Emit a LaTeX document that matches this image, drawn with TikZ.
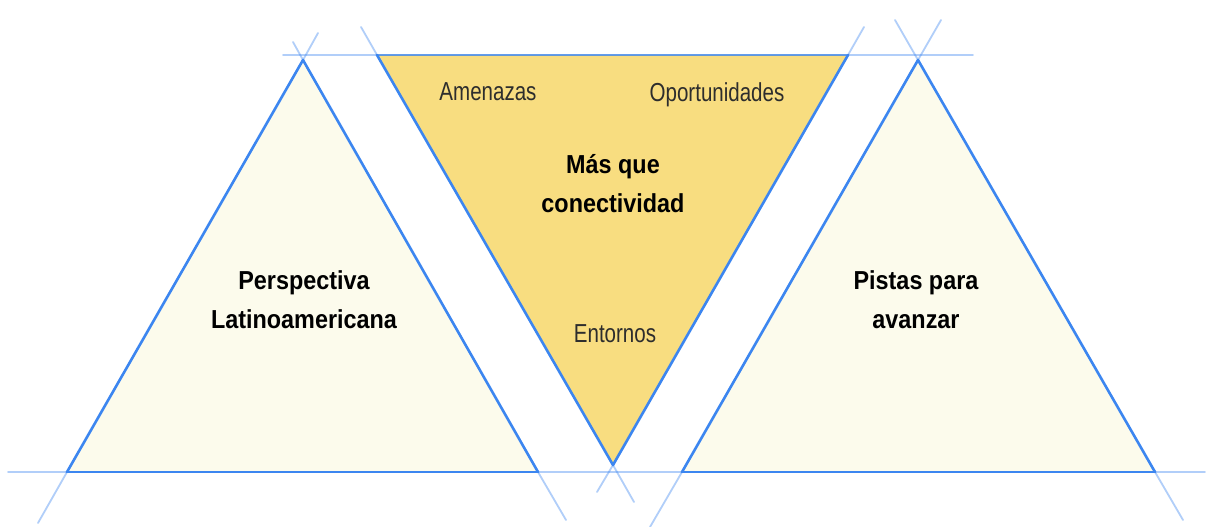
\documentclass[tikz,border=0pt]{standalone}
\usepackage{fontspec}
\setmainfont{Liberation Sans}
\newfontfamily\boldlab[FakeStretch=0.9]{Liberation Sans}
\newfontfamily\lightlab[FakeStretch=0.79]{Liberation Sans}
\definecolor{edgeblue}{RGB}{60,134,240}
\definecolor{midfill}{RGB}{248,221,128}
\definecolor{sidefill}{RGB}{252,251,236}
\definecolor{lighttext}{RGB}{45,45,45}
\tikzset{
  edge/.style={edgeblue, line width=2.6pt, line cap=round},
  faint/.style={edgeblue, line width=1.8pt, opacity=0.4, line cap=round},
  bigtitle/.style={font=\boldlab\bfseries\fontsize{26}{39}\selectfont, align=center, anchor=base, text=black, inner sep=0pt},
  smalltitle/.style={font=\lightlab\fontsize{26}{30}\selectfont, anchor=base, text=lighttext, inner sep=0pt}
}
\begin{document}
\begin{tikzpicture}[x=1pt,y=-1pt]
\useasboundingbox (0,0) rectangle (1207,527);
\fill[white] (0,0) rectangle (1207,527);
% vertices
\coordinate (A1) at (303,60);
\coordinate (L1) at (67,472);
\coordinate (R1) at (538,472);
\coordinate (M1) at (377,55);
\coordinate (M2) at (848,55);
\coordinate (M3) at (613,465);
\coordinate (A3) at (918,60);
\coordinate (L3) at (682,472);
\coordinate (R3) at (1155,472);
% extension ends
\coordinate (A1a) at (318,33);
\coordinate (A1b) at (293,42);
\coordinate (L1x) at (38,523);
\coordinate (R1x) at (566,520);
\coordinate (M1x) at (361,27);
\coordinate (M2x) at (864,27);
\coordinate (M3a) at (634,502);
\coordinate (M3b) at (597,492);
\coordinate (A3a) at (941,20);
\coordinate (A3b) at (895,20);
\coordinate (L3x) at (650,527);
\coordinate (R3x) at (1183,520);
\coordinate (B0) at (8,472);
\coordinate (B9) at (1205,472);
\coordinate (T0) at (283,55);
\coordinate (T9) at (973,55);
% fills
\fill[sidefill] (A1) -- (L1) -- (R1) -- cycle;
\fill[sidefill] (A3) -- (L3) -- (R3) -- cycle;
\fill[midfill] (M1) -- (M2) -- (M3) -- cycle;
% faint extensions
\draw[faint] (B0) -- (L1);
\draw[faint] (R1) -- (L3);
\draw[faint] (R3) -- (B9);
\draw[faint] (T0) -- (M1);
\draw[faint] (M2) -- (T9);
\draw[faint] (A1) -- (A1a);
\draw[faint] (A1) -- (A1b);
\draw[faint] (L1) -- (L1x);
\draw[faint] (R1) -- (R1x);
\draw[faint] (M1) -- (M1x);
\draw[faint] (M2) -- (M2x);
\draw[faint] (M3) -- (M3a);
\draw[faint] (M3) -- (M3b);
\draw[faint] (A3) -- (A3a);
\draw[faint] (A3) -- (A3b);
\draw[faint] (L3) -- (L3x);
\draw[faint] (R3) -- (R3x);
% main edges
\draw[edge] (L1) -- (R1);
\draw[edge] (L3) -- (R3);
\draw[edge, opacity=0.8] (M1) -- (M2);
\draw[edge] (A1) -- (L1);
\draw[edge] (A1) -- (R1);
\draw[edge] (M1) -- (M3);
\draw[edge] (M2) -- (M3);
\draw[edge] (A3) -- (L3);
\draw[edge] (A3) -- (R3);
% labels
\node[smalltitle] (amen) at (488,100) {Amenazas};
\node[smalltitle] (oport) at (717,101) {Oportunidades};
\node[smalltitle] (ent) at (615,342) {Entornos};
\node[bigtitle] (mas) at (613,212) {Más que\\conectividad};
\node[bigtitle] (persp) at (304,328) {Perspectiva\\Latinoamericana};
\node[bigtitle] (pistas) at (916,328) {Pistas para\\avanzar};
\end{tikzpicture}
\end{document}
